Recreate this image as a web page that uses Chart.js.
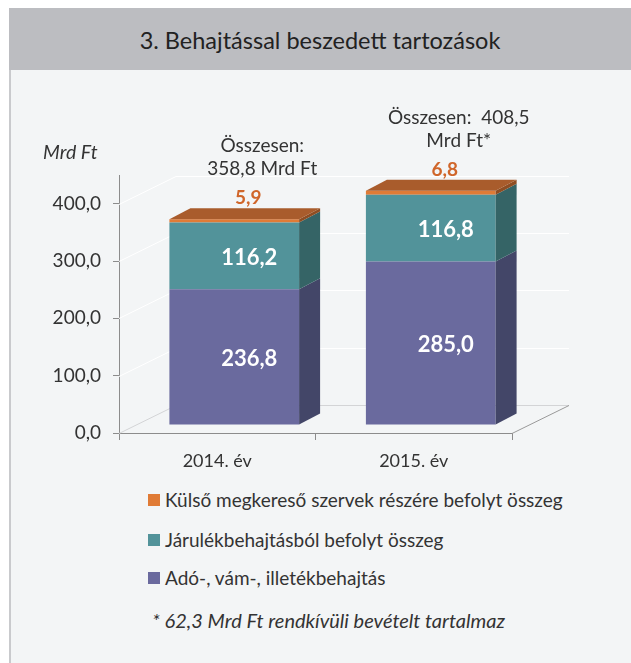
<!DOCTYPE html>
<html>
<head>
<meta charset="utf-8">
<script src="https://cdn.jsdelivr.net/npm/chart.js@4.4.0/dist/chart.umd.min.js"></script>
<style>
  body { margin: 0; width: 631px; height: 663px; background: #fff; position: relative; overflow: hidden; font-family: Lato, sans-serif; color: #333; }
  #panel { position: absolute; left: 9px; top: 8px; right: 0; bottom: 0; background: #f3f5f6; border-left: 2px solid #c9cacd; }
  #title { position: absolute; left: 9px; top: 8px; right: 0; height: 62px; background: #bcbdc1; color: #222; font-size: 23.5px; text-align: center; line-height: 64px; }
  #chart { position: absolute; left: 0; top: 0; }
  .leg { position: absolute; left: 148px; font-size: 19px; line-height: 24px; white-space: nowrap; }
  .leg span { display: inline-block; width: 12px; height: 12px; margin-right: 5px; vertical-align: 1px; }
  #note { position: absolute; left: 152px; top: 608px; font-size: 20px; font-style: italic; }
</style>
</head>
<body>
<div id="panel"></div>
<div id="title">3. Behajtással beszedett tartozások</div>
<canvas id="chart" width="631" height="480"></canvas>
<div id="legend"></div>
<div id="note">* 62,3 Mrd Ft rendkívüli bevételt tartalmaz</div>
<script>
// data
var categories = ["2014. év", "2015. év"];
var seriesNames = ["Adó-, vám-, illetékbehajtás", "Járulékbehajtásból befolyt összeg", "Külső megkereső szervek részére befolyt összeg"];
var adoVam = [236.8, 285.0];
var jarulek = [116.2, 116.8];
var kulso = [5.9, 6.8];
var totals = [358.8, 408.5];
var yTicks = [0, 100, 200, 300, 400];

// look
var fronts = ["#6a6a9e", "#52939a", "#e07b36"];
var sides = ["#434668", "#356466", "#8f4d22"];
var topFace = "#a95c2c";
var shiftX = 17, shiftY = -8;   // bars sit a bit behind the front axis
var depthX = 21, depthY = -11;  // bar depth
var wallX = 57, wallY = -28;    // back wall depth

function fmt(v) { return v.toFixed(1).replace(".", ","); }

var totalLabels = [
  ["Összesen:", fmt(totals[0]) + " Mrd Ft"],
  ["Összesen:  " + fmt(totals[1]), "Mrd Ft*"]
];

var threeD = {
  id: "threeD",
  beforeDatasetsDraw: function(chart) {
    var ctx = chart.ctx, a = chart.chartArea, y = chart.scales.y;
    ctx.save();
    ctx.lineWidth = 1;
    yTicks.forEach(function(v) {
      var py = Math.round(y.getPixelForValue(v)) + 0.5;
      ctx.strokeStyle = v === 0 ? "#d3d4d6" : "#ffffff";
      ctx.beginPath();
      ctx.moveTo(a.left, py);
      ctx.lineTo(a.left + wallX, py + wallY);
      ctx.lineTo(a.right + wallX, py + wallY);
      ctx.stroke();
    });
    ctx.strokeStyle = "#999";
    ctx.beginPath();
    ctx.moveTo(a.right, a.bottom + 0.5);
    ctx.lineTo(a.right + wallX, a.bottom + 0.5 + wallY);
    ctx.stroke();
    ctx.restore();
    ctx.save();
    ctx.translate(shiftX, shiftY);
  },
  afterDatasetsDraw: function(chart) {
    var ctx = chart.ctx;
    var n = chart.data.datasets.length;
    var tops = [];
    for (var i = 0; i < n; i++) {
      chart.getDatasetMeta(i).data.forEach(function(bar, j) {
        var p = bar.getProps(["x", "y", "base", "width"], true);
        var l = p.x - p.width / 2, r = p.x + p.width / 2;
        var t = Math.min(p.y, p.base), b = Math.max(p.y, p.base);
        ctx.fillStyle = sides[i];
        ctx.beginPath();
        ctx.moveTo(r, t);
        ctx.lineTo(r + depthX, t + depthY);
        ctx.lineTo(r + depthX, b + depthY);
        ctx.lineTo(r, b);
        ctx.closePath();
        ctx.fill();
        if (i === n - 1) {
          ctx.fillStyle = topFace;
          ctx.beginPath();
          ctx.moveTo(l, t);
          ctx.lineTo(l + depthX, t + depthY);
          ctx.lineTo(r + depthX, t + depthY);
          ctx.lineTo(r, t);
          ctx.closePath();
          ctx.fill();
          tops[j] = { x: p.x, y: t };
        }
        ctx.textAlign = "center";
        ctx.textBaseline = "middle";
        if (i < n - 1) {
          ctx.fillStyle = "#fff";
          ctx.font = "bold 22px Lato, sans-serif";
          ctx.fillText(fmt(chart.data.datasets[i].data[j]), p.x + 15, (t + b) / 2 + 2);
        } else {
          ctx.fillStyle = "#d0662a";
          ctx.font = "bold 19px Lato, sans-serif";
          ctx.fillText(fmt(chart.data.datasets[i].data[j]), p.x + 14, t - 21);
        }
      });
    }
    ctx.fillStyle = "#333";
    ctx.font = "19px Lato, sans-serif";
    tops.forEach(function(tp, j) {
      ctx.fillText(totalLabels[j][0], tp.x + 28, tp.y - 73);
      ctx.fillText(totalLabels[j][1], tp.x + 28, tp.y - 50);
    });
    ctx.restore();
    // unit label
    ctx.save();
    ctx.fillStyle = "#333";
    ctx.font = "italic 19.5px Lato, sans-serif";
    ctx.textAlign = "left";
    ctx.textBaseline = "middle";
    ctx.fillText("Mrd Ft", 43, 153);
    ctx.restore();
  }
};

new Chart(document.getElementById("chart"), {
  type: "bar",
  data: {
    labels: categories,
    datasets: [
      { label: seriesNames[0], data: adoVam, backgroundColor: fronts[0] },
      { label: seriesNames[1], data: jarulek, backgroundColor: fronts[1] },
      { label: seriesNames[2], data: kulso, backgroundColor: fronts[2] }
    ]
  },
  options: {
    responsive: false,
    animation: false,
    layout: { padding: { top: 175, right: 119, left: 0, bottom: 0 } },
    plugins: { legend: { display: false }, tooltip: { enabled: false } },
    datasets: { bar: { barPercentage: 0.66, categoryPercentage: 1, borderWidth: 0 } },
    scales: {
      x: {
        stacked: true,
        grid: { drawOnChartArea: false, color: "#8c8c8c", tickLength: 7 },
        border: { color: "#8c8c8c" },
        ticks: { color: "#333", font: { family: "Lato", size: 18 }, padding: 10 },
        afterFit: function(s) { s.height = 47; }
      },
      y: {
        stacked: true,
        min: 0,
        max: 450,
        grid: { drawOnChartArea: false, color: "#8c8c8c", tickLength: 6 },
        border: { color: "#8c8c8c" },
        ticks: { color: "#333", font: { family: "Lato", size: 19 }, padding: 12, callback: function(v) { return fmt(v); } },
        afterBuildTicks: function(s) { s.ticks = yTicks.map(function(v) { return { value: v }; }); },
        afterFit: function(s) { s.width = 119; }
      }
    }
  },
  plugins: [threeD]
});

// legend, top series first
var legend = document.getElementById("legend");
var legTops = [488, 528, 566];
for (var k = seriesNames.length - 1, row = 0; k >= 0; k--, row++) {
  var d = document.createElement("div");
  d.className = "leg";
  d.style.top = legTops[row] + "px";
  d.innerHTML = '<span style="background:' + fronts[k] + '"></span>' + seriesNames[k];
  legend.appendChild(d);
}
</script>
</body>
</html>
